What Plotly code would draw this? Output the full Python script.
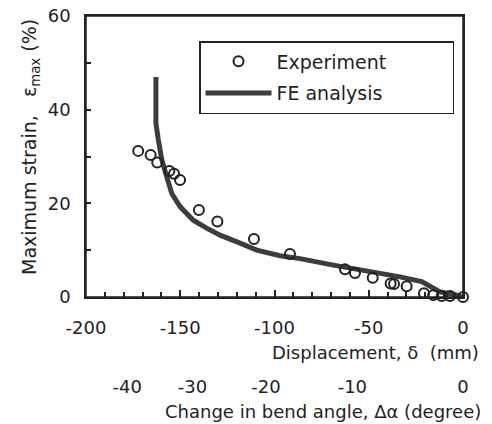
import plotly.graph_objects as go

# ---- data ----
exp_disp = [-172.3, -165.7, -162.2, -155.8, -153.3, -150.1, -140.1, -130.3, -110.9, -91.8,
            -62.6, -57.3, -47.9, -38.4, -36.6, -29.9, -20.7, -15.8, -11.3, -6.9, 0.0]
exp_strain = [31.2, 30.3, 28.7, 26.9, 26.3, 25.0, 18.6, 16.1, 12.4, 9.2,
              5.9, 5.1, 4.1, 2.9, 2.8, 2.3, 0.8, 0.4, 0.2, 0.2, 0.0]

fe_disp = [-162.9, -162.9, -161.6, -159.8, -157.2, -154.5, -150.1, -143.1, -136.0, -128.9,
           -118.3, -109.4, -97.1, -86.5, -68.8, -51.1, -33.4, -21.9, -17.5, -12.2, -5.1, 0.0]
fe_strain = [47.0, 37.1, 33.5, 29.3, 25.7, 22.1, 19.3, 16.4, 14.7, 13.2,
             11.5, 10.0, 8.8, 8.2, 6.8, 5.6, 4.3, 3.3, 2.2, 1.1, 0.6, 0.0]

disp_ticks = [-200, -150, -100, -50, 0]
disp_labels = ["-200", "-150", "-100", "-50", "0"]
strain_ticks = [0, 20, 40, 60]
strain_labels = ["0", "20", "40", "60"]
angle_labels = ["-40", "-30", "-20", "-10", "0"]
angle_at_disp = [-178.1, -143.5, -104.5, -58.7, 0.0]   # displacement where each angle tick sits

FONT = "DejaVu Sans"
INK = "#222222"
PAD = "\u00a0" * 10

fig = go.Figure()
fig.add_trace(go.Scatter(
    x=fe_disp, y=fe_strain, mode="lines", name="FE analysis" + PAD,
    line=dict(color="#3d3d3d", width=5), legendrank=2, legendgroup="b",
    cliponaxis=False))
fig.add_trace(go.Scatter(
    x=exp_disp, y=exp_strain, mode="markers", name="Experiment" + PAD,
    marker=dict(symbol="circle-open", size=10, color=INK, line=dict(color=INK, width=2)),
    legendrank=1, legendgroup="a", cliponaxis=False))
# empty trace on the angle-scale axis subplot so it is drawn
fig.add_trace(go.Scatter(x=[None], y=[None], xaxis="x2", yaxis="y2", showlegend=False,
                         hoverinfo="skip"))

# body margin is removed by post_script, so the figure fills the 492x424 window
W, H = 492, 424
plot_left, plot_right, plot_top, plot_bottom = 86, 463, 16, 297   # reference pixels
mb = 44
mt = plot_top
ml = plot_left
mr = W - plot_right
ph = H - mt - mb
pw = W - ml - mr

def px_x(px):
    return (px - ml) / pw

def px_y(py):
    return (H - mb - py) / ph

axis_common = dict(showline=True, mirror=True, linecolor=INK, linewidth=1.5,
                   ticks="inside", tickwidth=1.5, tickcolor=INK,
                   showgrid=False, zeroline=False, automargin=False,
                   ticklabeloverflow="allow", tickfont=dict(size=18))

fig.update_layout(
    width=W, height=H,
    margin=dict(l=ml, r=mr, t=mt, b=mb, autoexpand=False),
    paper_bgcolor="white", plot_bgcolor="rgba(0,0,0,0)",
    font=dict(family=FONT, size=18, color=INK),
    showlegend=True,
    legend=dict(x=px_x(199), y=px_y(41), xanchor="left", yanchor="top",
                bordercolor=INK, borderwidth=1.5, bgcolor="white",
                traceorder="grouped", tracegroupgap=4,
                font=dict(size=19, family=FONT, color=INK), itemwidth=66),
    xaxis=dict(range=[-200, 0], anchor="y", tickmode="array",
               tickvals=disp_ticks, ticktext=disp_labels, ticklen=7,
               minor=dict(dtick=10, tick0=0, ticks="inside", ticklen=5,
                          tickwidth=1.5, tickcolor=INK),
               ticklabelstandoff=14, **axis_common),
    yaxis=dict(range=[0, 60], domain=[px_y(plot_bottom), 1], anchor="x",
               tickmode="array", tickvals=strain_ticks, ticktext=strain_labels, ticklen=5,
               minor=dict(dtick=10, tick0=0, ticks="inside", ticklen=5,
                          tickwidth=1.5, tickcolor=INK),
               ticklabelstandoff=10, **axis_common),
    xaxis2=dict(range=[-200, 0], anchor="y2", side="bottom",
                tickmode="array", tickvals=angle_at_disp, ticktext=angle_labels,
                ticks="", showline=False, showgrid=False, zeroline=False,
                ticklabelstandoff=2, automargin=False, tickfont=dict(size=18)),
    yaxis2=dict(domain=[px_y(372), px_y(371)], anchor="x2", visible=False, range=[0, 1]),
    shapes=[dict(type="rect", xref="x domain", yref="y domain", x0=0, x1=1, y0=0, y1=1,
                 line=dict(color=INK, width=1.5), fillcolor="rgba(0,0,0,0)", layer="above")],
    annotations=[
        dict(text="Displacement, \u03b4  (mm)", xref="paper", yref="paper",
             x=px_x(481), y=px_y(352), xanchor="right", yanchor="middle",
             showarrow=False, font=dict(size=18)),
        dict(text="Change in bend angle, \u0394\u03b1 (degree)", xref="paper", yref="paper",
             x=px_x(483), y=px_y(412), xanchor="right", yanchor="middle",
             showarrow=False, font=dict(size=18)),
        dict(text="Maximum strain,  \u00a0\u03b5<sub>max</sub> (%)", xref="paper", yref="paper",
             x=px_x(30), y=px_y(147), xanchor="center", yanchor="middle", textangle=-90,
             showarrow=False, font=dict(size=19)),
    ],
)

fig.write_html("out.html",
               config={"displayModeBar": False},
               post_script="document.body.style.margin='0';document.body.style.overflow='hidden';")
